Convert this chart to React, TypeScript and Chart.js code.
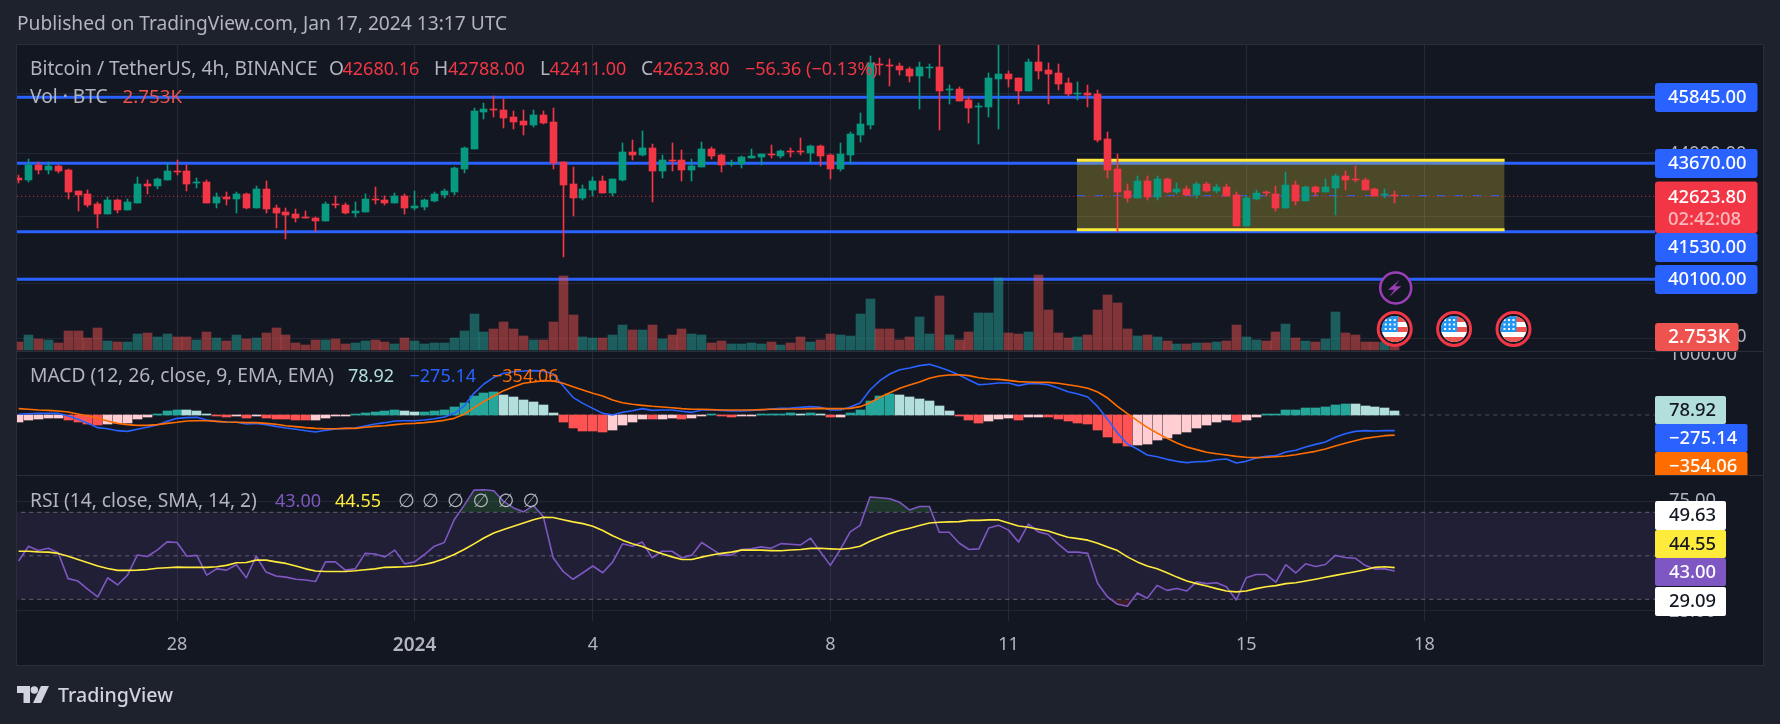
import React, { useEffect, useRef } from "react";
import { Chart, registerables } from "chart.js";

Chart.register(...registerables);

const opens = [
  43212, 43148, 43616, 43456, 43584, 43456, 42790, 42695, 42383, 42074,
  42508, 42197, 42414, 43010, 42946, 43137, 43424, 43424, 43041, 43073,
  42414, 42602, 42539, 42695, 42259, 42852, 42259, 42135, 42074, 41981,
  41950, 41858, 42383, 42352, 42104, 42135, 42539, 42508, 42414, 42633,
  42259, 42290, 42477, 42664, 42758, 43488, 44132, 45350, 45450, 45417,
  45183, 45050, 44918, 45250, 45017, 43713, 43010, 42570, 42821, 43105,
  42727, 43137, 44035, 43938, 44165, 43424, 43777, 43777, 43456, 43552,
  44132, 43938, 43670, 43649, 43842, 43874, 43970, 43906, 44068, 44068,
  44003, 44230, 43938, 43488, 43938, 44589, 44918, 46978, 46943, 46908,
  46805, 46566, 46840, 46874, 46090, 46123, 45751, 45517, 45517, 46464,
  46634, 46497, 46056, 47047, 46771, 46668, 46326, 45954, 45988, 45954,
  44458, 43488, 42790, 42570, 43105, 42602, 43169, 42758, 42852, 42664,
  43010, 42790, 42915, 42664, 41705, 42539, 42748, 42695, 42259, 42978,
  42477, 42915, 42758, 42884, 43265, 43169, 43137, 42852, 42674, 42680.16,
];
const highs = [
  43297, 43799, 43702, 43702, 43616, 43488, 42790, 42821, 42445, 42591,
  42529, 42539, 43233, 43137, 43190, 43670, 43777, 43616, 43190, 43137,
  42716, 42758, 42758, 42727, 42946, 43105, 42352, 42259, 42228, 42166,
  41981, 42445, 42633, 42414, 42445, 42695, 42915, 42633, 42727, 42695,
  42790, 42539, 42758, 42852, 43552, 44198, 45483, 45650, 45887, 45785,
  45383, 45417, 45417, 45383, 45483, 43713, 43552, 42978, 43233, 43265,
  43169, 44328, 44425, 44720, 44295, 43938, 44328, 44100, 43809, 44360,
  44198, 43970, 43777, 43906, 44132, 43970, 44263, 44100, 44165, 44491,
  44263, 44263, 43970, 44328, 44687, 45317, 47254, 47185, 47151, 47012,
  46874, 47047, 46978, 47700, 46259, 46191, 45853, 45650, 46668, 47700,
  46737, 46497, 47151, 47700, 47012, 46978, 46497, 46360, 46259, 46090,
  44687, 43970, 43010, 43265, 43265, 43265, 43201, 43052, 42946, 43073,
  43073, 43010, 43010, 42758, 42633, 42821, 42790, 42946, 43392, 43105,
  42946, 42946, 43169, 43329, 43424, 43584, 43201, 42884, 42852, 42788,
];
const lows = [
  43052, 43084, 43329, 43329, 43371, 42549, 42166, 42280, 41644, 42074,
  42114, 42197, 42414, 42695, 42852, 43137, 43297, 42790, 42884, 42414,
  42259, 42352, 42104, 42228, 42259, 42104, 41644, 41307, 41828, 41950,
  41520, 41858, 42259, 42074, 41981, 42135, 42383, 42352, 42414, 42074,
  42197, 42197, 42445, 42570, 42664, 43360, 44132, 45117, 45183, 44819,
  44786, 44589, 44852, 44951, 43488, 40775, 42012, 42508, 42633, 42727,
  42633, 43105, 43777, 43906, 42445, 43201, 43424, 43105, 43105, 43552,
  43809, 43392, 43584, 43520, 43842, 43616, 43842, 43842, 43874, 43938,
  43713, 43584, 43169, 43424, 43649, 44360, 44786, 46600, 46225, 46600,
  46360, 45450, 46497, 44753, 45617, 45717, 44984, 44295, 45183, 44786,
  46191, 45617, 46056, 46464, 45617, 46090, 45887, 45751, 45517, 44360,
  43201, 41520, 42445, 42570, 42508, 42508, 42727, 42695, 42664, 42570,
  42758, 42727, 42633, 41705, 41705, 42508, 42633, 42166, 42259, 42352,
  42477, 42633, 42758, 42043, 42821, 43073, 42821, 42633, 42570, 42411,
];
const closes = [
  43148, 43616, 43456, 43584, 43424, 42758, 42664, 42352, 42074, 42508,
  42197, 42445, 43010, 42946, 43169, 43424, 43381, 43010, 43073, 42414,
  42602, 42539, 42695, 42259, 42852, 42228, 42104, 42043, 41950, 41950,
  41858, 42383, 42352, 42104, 42166, 42539, 42508, 42414, 42633, 42259,
  42321, 42508, 42695, 42790, 43520, 44165, 45383, 45450, 45417, 45150,
  45017, 44918, 45250, 44984, 43680, 42978, 42570, 42852, 43105, 42727,
  43169, 44035, 43938, 44165, 43424, 43777, 43745, 43456, 43584, 44132,
  43906, 43616, 43691, 43874, 43906, 43970, 43938, 44068, 44035, 44035,
  44230, 43906, 43488, 43970, 44622, 44951, 47000, 46943, 46920, 46771,
  46566, 46874, 46874, 46056, 46123, 45717, 45483, 45550, 46497, 46634,
  46464, 46056, 47047, 46737, 46634, 46292, 45954, 45988, 45921, 44425,
  43456, 42758, 42570, 43105, 42602, 43169, 42758, 42852, 42664, 43010,
  42790, 42915, 42633, 41705, 42570, 42727, 42716, 42259, 42978, 42477,
  42915, 42758, 42915, 43265, 43137, 43137, 42821, 42633, 42695, 42623.8,
];
const volumes = [
  6650, 12470, 9140, 8310, 5820, 15790, 15790, 9970, 18280, 7480,
  6650, 6650, 13300, 14130, 10800, 13300, 10800, 10800, 8310, 14960,
  9970, 7480, 12470, 9140, 9970, 14130, 18280, 12470, 5820, 4160,
  8310, 8310, 9140, 4990, 5820, 7480, 8310, 6650, 4990, 9970,
  7480, 4990, 5820, 5820, 9970, 15790, 29920, 14960, 17450, 23270,
  17450, 11630, 8310, 8310, 23270, 61490, 29090, 10800, 9970, 9970,
  12470, 20780, 16620, 16620, 20780, 9140, 12470, 17450, 13300, 12470,
  5820, 7480, 4990, 4990, 5820, 4990, 6650, 4160, 5820, 10800,
  6650, 8310, 13300, 12470, 11630, 29920, 42380, 17450, 17450, 8310,
  10800, 27420, 13300, 44870, 12470, 8310, 14960, 30750, 30750, 59830,
  14130, 13300, 14960, 62330, 33240, 14130, 9970, 10800, 12470, 33240,
  45710, 39060, 17450, 11630, 12470, 10800, 7480, 4990, 4990, 5820,
  5820, 6650, 7480, 20780, 10800, 8310, 7480, 14960, 21610, 9970,
  7480, 6650, 9140, 31580, 14130, 12470, 6650, 6650, 6650, 2753,
];
const macdHist = [
  -123, -88, -70, -53, -52, -88, -123, -158, -176, -158,
  -147, -141, -70, -35, 18, 70, 88, 85, 70, 18,
  -12, -35, -23, -53, -6, -53, -70, -72, -88, -90,
  -88, -53, -18, -17, 18, 35, 53, 70, 88, 70,
  53, 55, 70, 88, 141, 211, 335, 387, 405, 352,
  317, 264, 229, 176, 35, -123, -229, -282, -283, -299,
  -264, -176, -123, -70, -72, -70, -53, -70, -53, -18,
  12, -12, -29, -18, -12, 18, 19, 20, 35, 18,
  35, 18, -29, -28, 35, 88, 247, 335, 370, 352,
  317, 282, 247, 158, 70, -6, -88, -141, -106, -70,
  -53, -88, -35, -34, -36, -70, -106, -141, -158, -264,
  -387, -487, -540, -522, -505, -434, -399, -329, -294, -223,
  -170, -117, -82, -117, -82, -29, 18, 19, 88, 89,
  123, 124, 141, 176, 194, 193, 158, 141, 123, 78.92,
];
const macdLine = [
  12, 23, 29, 29, 29, -18, -76, -147, -223, -241,
  -276, -288, -252, -217, -176, -112, -59, -47, -41, -88,
  -112, -123, -129, -158, -147, -170, -200, -229, -252, -276,
  -299, -270, -247, -235, -229, -194, -158, -135, -106, -100,
  -100, -88, -65, -35, 29, 158, 382, 546, 663, 734,
  763, 775, 781, 775, 722, 511, 311, 205, 117, 29,
  0, 47, 76, 112, 82, 88, 88, 65, 47, 88,
  88, 82, 70, 70, 82, 88, 106, 117, 123, 135,
  147, 135, 88, 88, 141, 211, 440, 605, 722, 798,
  828, 869, 892, 839, 781, 704, 616, 534, 546, 564,
  564, 517, 552, 552, 534, 475, 411, 370, 317, 147,
  -76, -317, -511, -599, -704, -734, -781, -816, -839, -822,
  -816, -787, -775, -845, -816, -757, -728, -716, -652, -622,
  -564, -517, -475, -393, -329, -288, -276, -282, -276, -275.14,
];
const macdSignal = [
  112, 100, 88, 82, 70, 53, 18, -18, -53, -106,
  -147, -170, -182, -182, -170, -147, -129, -106, -100, -100,
  -112, -123, -129, -135, -135, -147, -164, -188, -205, -223,
  -235, -241, -241, -235, -235, -217, -200, -188, -170, -153,
  -147, -135, -117, -94, -59, 12, 129, 235, 335, 429,
  499, 558, 581, 605, 599, 558, 499, 440, 382, 335,
  264, 217, 188, 170, 153, 141, 129, 112, 100, 100,
  94, 88, 88, 88, 88, 94, 100, 100, 106, 106,
  112, 117, 112, 112, 117, 147, 217, 311, 393, 470,
  528, 581, 646, 687, 704, 710, 693, 657, 634, 628,
  610, 587, 581, 575, 575, 558, 534, 505, 470, 405,
  299, 153, 23, -100, -217, -317, -411, -493, -564, -610,
  -657, -681, -704, -728, -745, -751, -745, -734, -722, -699,
  -669, -640, -599, -546, -499, -452, -411, -387, -364, -354.06,
];
const rsiLine = [
  47.6, 54.4, 52.4, 53.5, 51.4, 39.5, 38.4, 34.6, 31.1, 39.9,
  36.6, 41.1, 50.4, 49.7, 52.6, 56.4, 56.1, 49.8, 50.2, 41.1,
  44.0, 43.4, 45.9, 39.9, 49.8, 42.5, 40.7, 40.2, 39.2, 38.9,
  38.2, 47.2, 47.2, 43.4, 44.0, 51.1, 50.8, 49.5, 52.6, 46.3,
  47.2, 50.6, 54.4, 56.1, 66.6, 73.2, 80.2, 80.4, 79.9, 75.0,
  72.0, 70.2, 73.1, 68.0, 49.1, 42.8, 39.2, 42.2, 45.3, 42.2,
  47.1, 55.5, 54.4, 56.3, 49.1, 52.1, 52.1, 49.1, 50.3, 56.1,
  53.2, 50.3, 50.3, 52.9, 53.2, 54.1, 53.5, 55.6, 55.3, 55.0,
  58.1, 51.7, 45.6, 52.9, 61.0, 64.0, 77.0, 76.7, 76.2, 74.6,
  71.1, 72.7, 72.7, 60.8, 60.8, 55.9, 52.9, 53.2, 62.8, 64.0,
  61.8, 56.3, 64.6, 61.0, 59.8, 55.5, 51.7, 51.7, 51.1, 37.3,
  31.1, 27.7, 26.8, 32.9, 30.5, 36.4, 34.1, 35.0, 33.8, 38.1,
  37.2, 37.6, 35.8, 29.7, 39.9, 41.4, 41.4, 37.9, 45.9, 42.1,
  46.3, 45.1, 46.0, 50.2, 49.2, 48.9, 45.6, 43.9, 44.0, 43.0,
];
const rsiAverage = [
  52.1, 52.1, 51.8, 51.7, 51.1, 49.8, 48.3, 46.8, 45.3, 44.2,
  43.3, 43.3, 43.4, 43.7, 44.3, 44.5, 44.8, 44.7, 44.7, 44.7,
  45.0, 45.6, 46.8, 46.9, 48.0, 48.0, 47.2, 46.5, 45.3, 44.0,
  43.0, 42.8, 42.8, 42.8, 43.1, 43.6, 44.0, 44.7, 44.8, 45.0,
  45.3, 46.0, 47.1, 48.6, 50.6, 52.9, 55.5, 58.2, 60.5, 62.1,
  63.6, 65.1, 66.6, 67.7, 67.6, 66.6, 65.6, 64.8, 63.6, 61.6,
  59.2, 57.2, 55.5, 54.3, 52.4, 50.9, 49.5, 48.3, 48.3, 49.4,
  50.4, 51.1, 51.7, 52.6, 52.7, 52.6, 52.4, 52.3, 52.7, 52.9,
  53.4, 53.5, 53.2, 53.0, 53.5, 54.4, 56.7, 58.5, 60.2, 61.6,
  62.7, 63.9, 65.1, 65.4, 65.6, 65.7, 66.3, 66.3, 66.5, 66.5,
  65.1, 63.7, 63.1, 62.2, 61.4, 59.9, 58.5, 57.9, 57.2, 55.8,
  54.1, 52.4, 49.5, 47.2, 45.3, 44.0, 42.2, 40.2, 38.4, 37.2,
  36.1, 34.9, 33.8, 33.4, 33.8, 34.9, 35.8, 36.3, 37.2, 37.6,
  38.4, 39.2, 40.1, 41.0, 41.9, 42.7, 43.6, 44.7, 45.0, 44.55,
];

const priceLevels = [45845, 43670, 41530, 40100];
const lastClose = 42623.8;
const boxTop = 43768;
const boxMid = 42644;
const boxBottom = 41588;
const boxStartIndex = 106.9;
const boxEndIndex = 150.1;
const priceGrid = [46000, 44000, 42000, 40000];
const volumeGrid = [10000];
const macdGrid = [1000];
const rsiGrid = [75, 25];
const rsiGuides = [70, 50, 30];
const tickIndices = [16, 40, 58, 82, 100, 124, 142];
const tickLabels = ["28", "2024", "4", "8", "11", "15", "18"];
const lightningIndex = [139];
const flagIndices = [139, 145, 151];

const FONT = '"Noto Sans", sans-serif';
const GREEN = "#089981";
const RED = "#f23645";
const BLUE = "#2962ff";
const ORANGE = "#ff6d00";
const YELLOW = "#ffeb3b";
const PURPLE = "#7e57c2";
const TXT = "#b2b5be";
const PANE = "#131722";
const OUTER = "#1e222d";
const BORDER = "#2a2e39";

const AREA = { left: 17, right: 1655, top: 45, bottom: 621 };

function linRange(v1: number, y1: number, v2: number, y2: number) {
  const k = (v1 - v2) / (y2 - y1);
  return { min: v2 - (AREA.bottom - y2) * k, max: v1 + (y1 - AREA.top) * k };
}
function logRange(v1: number, y1: number, v2: number, y2: number) {
  const k = Math.log(v1 / v2) / (y2 - y1);
  return { min: v2 * Math.exp(-(AREA.bottom - y2) * k), max: v1 * Math.exp((y1 - AREA.top) * k) };
}

const indexAt = (px: number) => 16 + (px - 177) / 9.9;
const xMin = indexAt(AREA.left);
const xMax = indexAt(AREA.right);

const isUp = closes.map((c, i) => c >= opens[i]);
const idx = closes.map((_, i) => i);

const histColors = macdHist.map((h, i) => {
  const prev = i ? macdHist[i - 1] : h - 1;
  if (h >= 0) return prev < h ? "#26a69a" : "#b2dfdb";
  return prev < h ? "#ffcdd2" : "#ff5252";
});

function roundRect(ctx: any, x: number, y: number, w: number, h: number, fill: string, r = 3) {
  ctx.fillStyle = fill;
  ctx.beginPath();
  ctx.roundRect(x, y, w, h, r);
  ctx.fill();
}

function text(ctx: any, s: string, x: number, y: number, color: string, size = 16, weight = "400", family = FONT) {
  ctx.font = `${weight} ${size}px ${family}`;
  ctx.fillStyle = color;
  ctx.textAlign = "left";
  ctx.textBaseline = "middle";
  ctx.fillText(s, x, y);
}

const snapPlugin = {
  id: "snap",
  afterDatasetsUpdate(chart: any) {
    chart.getSortedVisibleDatasetMetas().forEach((meta: any) => {
      if (meta.type !== "bar") return;
      const w = chart.data.datasets[meta.index].maxBarThickness;
      meta.data.forEach((el: any) => {
        el.x = Math.floor(el.x) + (w % 2 ? 0.5 : 0);
        const y = Math.round(el.y);
        let b = Math.round(el.base);
        if (b === y) b = y + 1;
        el.y = y;
        el.base = b;
        el.height = Math.abs(b - y);
      });
    });
  },
};

const backdropPlugin = {
  id: "backdrop",
  beforeDraw(chart: any) {
    const { ctx, width, height } = chart;
    ctx.save();
    ctx.fillStyle = OUTER;
    ctx.fillRect(0, 0, width, height);
    ctx.fillStyle = PANE;
    ctx.fillRect(17, 45, 1746, 620);
    ctx.strokeStyle = BORDER;
    ctx.lineWidth = 1;
    ctx.strokeRect(16.5, 44.5, 1747, 621);
    ctx.restore();
  },
  beforeDatasetsDraw(chart: any) {
    const { ctx, scales } = chart;
    ctx.save();
    ctx.strokeStyle = "rgba(42,46,57,0.75)";
    ctx.lineWidth = 1;
    const rows: number[] = [
      ...priceGrid.map((v) => scales.yPrice.getPixelForValue(v)),
      ...volumeGrid.map((v) => scales.yVol.getPixelForValue(v)),
      ...macdGrid.map((v) => scales.yMacd.getPixelForValue(v)),
      ...rsiGrid.map((v) => scales.yRsi.getPixelForValue(v)),
    ];
    rows.forEach((y) => {
      const p = Math.round(y) + 0.5;
      ctx.beginPath();
      ctx.moveTo(AREA.left, p);
      ctx.lineTo(AREA.right, p);
      ctx.stroke();
    });
    ctx.restore();
  },
};

const overlayPlugin = {
  id: "overlay",
  afterDraw(chart: any) {
    const { ctx, scales } = chart;
    ctx.save();

    ctx.strokeStyle = BORDER;
    ctx.lineWidth = 1;
    [351.5, 475.5].forEach((y) => {
      ctx.beginPath();
      ctx.moveTo(17, y);
      ctx.lineTo(1763, y);
      ctx.stroke();
    });

    // heading
    text(ctx, "Published on TradingView.com, Jan 17, 2024 13:17 UTC", 17, 25, TXT, 19.2);

    // legends: words at the larger size, figures at the narrower one
    const L = 19.2;
    const N = 18;
    text(ctx, "Bitcoin / TetherUS, 4h, BINANCE", 30, 70, TXT, L);
    text(ctx, "O", 329, 70, TXT, L);
    text(ctx, "42680.16", 342.5, 70, RED, N);
    text(ctx, "H", 434, 70, TXT, L);
    text(ctx, "42788.00", 448, 70, RED, N);
    text(ctx, "L", 540, 70, TXT, L);
    text(ctx, "42411.00", 549.5, 70, RED, N);
    text(ctx, "C", 641, 70, TXT, L);
    text(ctx, "42623.80", 652.7, 70, RED, N);
    text(ctx, "\u221256.36 (\u22120.13%)", 745, 70, RED, N);
    text(ctx, "Vol \u00b7 BTC", 30, 98, TXT, L);
    text(ctx, "2.753K", 122.5, 98, "#ef5350", N + 0.8);

    text(ctx, "MACD (12, 26, close, 9, EMA, EMA)", 30, 377, TXT, L);
    text(ctx, "78.92", 348, 377, "#b2dfdb", N);
    text(ctx, "\u2212275.14", 409.5, 377, BLUE, N);
    text(ctx, "\u2212354.06", 492, 377, ORANGE, N);

    text(ctx, "RSI (14, close, SMA, 14, 2)", 30, 502, TXT, L);
    text(ctx, "43.00", 275, 502, PURPLE, N);
    text(ctx, "44.55", 335, 502, YELLOW, N);
    [398, 422, 447, 472.6, 497.5, 522.4].forEach((x) => text(ctx, "\u2205", x, 502, TXT, L, "400", '"DejaVu Sans", sans-serif'));

    // axis ticks partly hidden by labels
    const A = 18.4;
    text(ctx, "44000.00", 1668, 154, TXT, A);
    text(ctx, "38000.00", 1668, 337, TXT, A);
    ctx.save();
    ctx.beginPath();
    ctx.rect(1656, 352, 106, 40);
    ctx.clip();
    text(ctx, "1000.00", 1669, 355, TXT, A);
    ctx.restore();
    text(ctx, "75.00", 1669, 501, TXT, A);
    text(ctx, "25.00", 1669, 612, TXT, A);

    // price labels
    const P = 18.4;
    const W = "500";
    const labels: [number, number, string, string, string][] = [
      [83, 29, "45845.00", BLUE, "#ffffff"],
      [149, 29, "43670.00", BLUE, "#ffffff"],
      [233, 29, "41530.00", BLUE, "#ffffff"],
      [265, 29, "40100.00", BLUE, "#ffffff"],
    ];
    labels.forEach(([y, h, s, bg, fg]) => {
      roundRect(ctx, 1655, y, 102.5, h, bg);
      text(ctx, s, 1668, y + h / 2 + 0.5, fg, P, W);
    });
    roundRect(ctx, 1655, 181.5, 102.5, 51.5, RED);
    text(ctx, "42623.80", 1668, 197.5, "#ffffff", P, W);
    text(ctx, "02:42:08", 1668, 220, "rgba(255,255,255,0.65)", P, W);
    roundRect(ctx, 1655, 323, 83.5, 28, "#ef5350");
    text(ctx, "2.753K", 1668, 337.5, "#ffffff", P + 1, W);

    const small: [number, number, number, string, string, string][] = [
      [396, 28, 71, "78.92", "#b2dfdb", "#131722"],
      [424, 28, 92.5, "\u2212275.14", BLUE, "#ffffff"],
      [452, 28, 92.5, "\u2212354.06", ORANGE, "#ffffff"],
      [501, 29, 71, "49.63", "#ffffff", "#131722"],
      [530, 28, 71, "44.55", YELLOW, "#131722"],
      [558, 28, 71, "43.00", PURPLE, "#ffffff"],
      [587, 29, 71, "29.09", "#ffffff", "#131722"],
    ];
    small.forEach(([y, h, w, s, bg, fg], i) => {
      ctx.save();
      if (i === 2) {
        ctx.beginPath();
        ctx.rect(1655, y, 110, 23);
        ctx.clip();
      }
      roundRect(ctx, 1655, y, w, h, bg, 2);
      text(ctx, s, 1669, y + h / 2 + 0.5, fg, P, W);
      ctx.restore();
    });

    // event markers
    const xs = scales.x;
    lightningIndex.forEach((i) => {
      const cx = xs.getPixelForValue(i) + 1;
      const cy = 288;
      ctx.beginPath();
      ctx.arc(cx, cy, 15.5, 0, Math.PI * 2);
      ctx.fillStyle = PANE;
      ctx.fill();
      ctx.lineWidth = 2.5;
      ctx.strokeStyle = "#9c3fb5";
      ctx.stroke();
      ctx.beginPath();
      const pts = [[4, -8.3], [-7.7, 1.7], [-1.3, 1.7], [-6.7, 9], [5.7, -1.7], [-0.7, -1.7]];
      pts.forEach(([a, b], k) => (k ? ctx.lineTo(cx + a, cy + b) : ctx.moveTo(cx + a, cy + b)));
      ctx.closePath();
      ctx.fillStyle = "#9c3fb5";
      ctx.fill();
    });
    flagIndices.forEach((i) => {
      const cx = xs.getPixelForValue(i);
      const cy = 329;
      ctx.beginPath();
      ctx.arc(cx, cy, 16.5, 0, Math.PI * 2);
      ctx.fillStyle = PANE;
      ctx.fill();
      ctx.lineWidth = 3;
      ctx.strokeStyle = RED;
      ctx.stroke();
      ctx.save();
      ctx.beginPath();
      ctx.arc(cx, cy, 13, 0, Math.PI * 2);
      ctx.clip();
      ctx.fillStyle = "#ffffff";
      ctx.fillRect(cx - 14, cy - 14, 28, 28);
      ctx.fillStyle = "#ef5350";
      ctx.fillRect(cx - 14, cy - 14, 28, 7);
      ctx.fillRect(cx - 14, cy - 2, 28, 5);
      ctx.fillRect(cx - 14, cy + 8, 28, 6);
      ctx.fillStyle = "#2196f3";
      ctx.fillRect(cx - 14, cy - 14, 17, 17);
      ctx.fillStyle = "#ffffff";
      for (let r = 0; r < 3; r++) {
        for (let c = 0; c < 3; c++) {
          ctx.fillRect(cx - 10 + c * 4.5, cy - 10 + r * 4.5, 2, 2);
        }
      }
      ctx.restore();
    });

    // logo
    ctx.fillStyle = "#d1d4dc";
    ctx.beginPath();
    ctx.moveTo(17, 686);
    ctx.lineTo(30, 686);
    ctx.lineTo(30, 703);
    ctx.lineTo(23.5, 703);
    ctx.lineTo(23.5, 693);
    ctx.lineTo(17, 693);
    ctx.closePath();
    ctx.fill();
    ctx.beginPath();
    ctx.arc(34.3, 690, 3.7, 0, Math.PI * 2);
    ctx.fill();
    ctx.beginPath();
    ctx.moveTo(41, 686);
    ctx.lineTo(49, 686);
    ctx.lineTo(41, 703);
    ctx.lineTo(33, 703);
    ctx.closePath();
    ctx.fill();
    text(ctx, "TradingView", 58, 696, "#d1d4dc", 19.6, "500");

    ctx.restore();
  },
};

const level = (v: number) => [
  { x: xMin - 2, y: v },
  { x: xMax + 2, y: v },
];
const boxEdge = (v: number) => [
  { x: boxStartIndex, y: v },
  { x: boxEndIndex, y: v },
];
const series = (arr: number[]) => arr.map((y, i) => ({ x: i, y }));

const lineBase = { type: "line", pointRadius: 0, tension: 0, borderJoinStyle: "round" };
const barBase = { type: "bar", grouped: false, barPercentage: 1, categoryPercentage: 1, borderWidth: 0 };

export default function App() {
  const ref = useRef<HTMLCanvasElement | null>(null);
  useEffect(() => {
    if (!ref.current) return;
    document.body.style.margin = "0";
    document.body.style.background = OUTER;
    const price = logRange(45845, 97.3, 40100, 279.3);
    const vol = linRange(83000, 250, 0, 350);
    const macd = linRange(1761, 315, 0, 415);
    const rsi = linRange(70, 512.3, 30, 599.3);
    const chart = new Chart(ref.current, {
      type: "bar",
      data: {
        datasets: [
          {
            ...barBase,
            label: "Body",
            order: 1,
            yAxisID: "yPrice",
            maxBarThickness: 7,
            data: idx.map((i) => ({ x: i, y: [opens[i], closes[i]] })),
            backgroundColor: isUp.map((u) => (u ? GREEN : RED)),
          },
          {
            ...barBase,
            label: "Wick",
            order: 2,
            yAxisID: "yPrice",
            maxBarThickness: 1,
            data: idx.map((i) => ({ x: i, y: [lows[i], highs[i]] })),
            backgroundColor: isUp.map((u) => (u ? GREEN : RED)),
          },
          {
            ...lineBase,
            label: "Last",
            order: 3,
            yAxisID: "yPrice",
            data: level(lastClose),
            borderColor: RED,
            borderWidth: 1,
            borderDash: [1, 3],
          },
          {
            ...barBase,
            label: "Volume",
            order: 4,
            yAxisID: "yVol",
            maxBarThickness: 9,
            data: series(volumes),
            backgroundColor: isUp.map((u) => (u ? "rgba(38,166,154,0.5)" : "rgba(239,83,80,0.5)")),
          },
          {
            ...lineBase,
            label: "Box mid",
            order: 5,
            yAxisID: "yPrice",
            data: boxEdge(boxMid),
            borderColor: BLUE,
            borderWidth: 1,
            borderDash: [8, 10],
          },
          {
            ...lineBase,
            label: "Box top",
            order: 6,
            yAxisID: "yPrice",
            data: boxEdge(boxTop),
            borderColor: YELLOW,
            borderWidth: 3,
            fill: { target: { value: boxBottom }, above: "rgba(255,235,59,0.24)", below: "rgba(255,235,59,0.24)" },
          },
          {
            ...lineBase,
            label: "Box bottom",
            order: 6,
            yAxisID: "yPrice",
            data: boxEdge(boxBottom),
            borderColor: YELLOW,
            borderWidth: 3,
          },
          ...priceLevels.map((v) => ({
            ...lineBase,
            label: "Level " + v,
            order: 8,
            yAxisID: "yPrice",
            data: level(v),
            borderColor: BLUE,
            borderWidth: 3,
          })),
          {
            ...lineBase,
            label: "Signal",
            order: 10,
            yAxisID: "yMacd",
            data: series(macdSignal),
            borderColor: ORANGE,
            borderWidth: 1.6,
          },
          {
            ...lineBase,
            label: "MACD",
            order: 11,
            yAxisID: "yMacd",
            data: series(macdLine),
            borderColor: BLUE,
            borderWidth: 1.6,
          },
          {
            ...barBase,
            label: "Histogram",
            order: 12,
            yAxisID: "yMacd",
            maxBarThickness: 9,
            data: series(macdHist),
            backgroundColor: histColors,
          },
          {
            ...lineBase,
            label: "MACD zero",
            order: 13,
            yAxisID: "yMacd",
            data: level(0),
            borderColor: "rgba(120,123,134,0.55)",
            borderWidth: 1,
            borderDash: [4, 4],
          },
          {
            ...lineBase,
            label: "RSI MA",
            order: 20,
            yAxisID: "yRsi",
            data: series(rsiAverage),
            borderColor: YELLOW,
            borderWidth: 1.6,
          },
          {
            ...lineBase,
            label: "RSI",
            order: 21,
            yAxisID: "yRsi",
            data: series(rsiLine),
            borderColor: PURPLE,
            borderWidth: 1.6,
            fill: { target: { value: 70 }, above: "rgba(76,175,80,0.2)", below: "rgba(0,0,0,0)" },
          },
          {
            ...lineBase,
            label: "RSI oversold",
            order: 22,
            yAxisID: "yRsi",
            data: series(rsiLine),
            borderWidth: 0,
            borderColor: "rgba(0,0,0,0)",
            fill: { target: { value: 30 }, above: "rgba(0,0,0,0)", below: "rgba(242,54,69,0.18)" },
          },
          ...rsiGuides.map((v, k) => ({
            ...lineBase,
            label: "Guide " + v,
            order: 23,
            yAxisID: "yRsi",
            data: level(v),
            borderColor: "rgba(120,123,134,0.75)",
            borderWidth: 1,
            borderDash: [4, 4],
            ...(k === 0 ? { fill: { target: { value: 30 }, above: "rgba(126,87,194,0.13)", below: "rgba(126,87,194,0.13)" } } : {}),
          })),
        ] as any,
      },
      options: {
        responsive: false,
        animation: false,
        events: [],
        layout: { padding: { left: AREA.left, right: 1780 - AREA.right, top: AREA.top, bottom: 724 - 665 } },
        plugins: { legend: { display: false }, tooltip: { enabled: false } },
        scales: {
          x: {
            type: "linear",
            min: xMin,
            max: xMax,
            offset: false,
            bounds: "data",
            afterFit: (s: any) => {
              s.height = 665 - AREA.bottom;
            },
            afterBuildTicks: (s: any) => {
              s.ticks = tickIndices.map((value) => ({ value }));
            },
            grid: { offset: false, color: "rgba(42,46,57,0.85)", drawTicks: false, lineWidth: 1 },
            border: { display: false },
            ticks: {
              autoSkip: false,
              maxRotation: 0,
              minRotation: 0,
              padding: 13,
              color: TXT,
              font: (c: any) =>
                c.tick && c.tick.value === 40
                  ? { family: FONT, size: 19, weight: 600 }
                  : { family: FONT, size: 18, weight: 400 },
              callback: (v: any) => tickLabels[tickIndices.indexOf(v)] ?? "",
            },
          },
          yPrice: { type: "logarithmic", position: "right", display: false, bounds: "data", offset: false, ...price },
          yVol: { type: "linear", position: "right", display: false, bounds: "data", offset: false, ...vol },
          yMacd: { type: "linear", position: "right", display: false, bounds: "data", offset: false, ...macd },
          yRsi: { type: "linear", position: "right", display: false, bounds: "data", offset: false, ...rsi },
        },
      } as any,
      plugins: [snapPlugin, backdropPlugin, overlayPlugin],
    } as any);
    return () => chart.destroy();
  }, []);
  return <canvas ref={ref} width={1780} height={724} style={{ display: "block" }} />;
}
